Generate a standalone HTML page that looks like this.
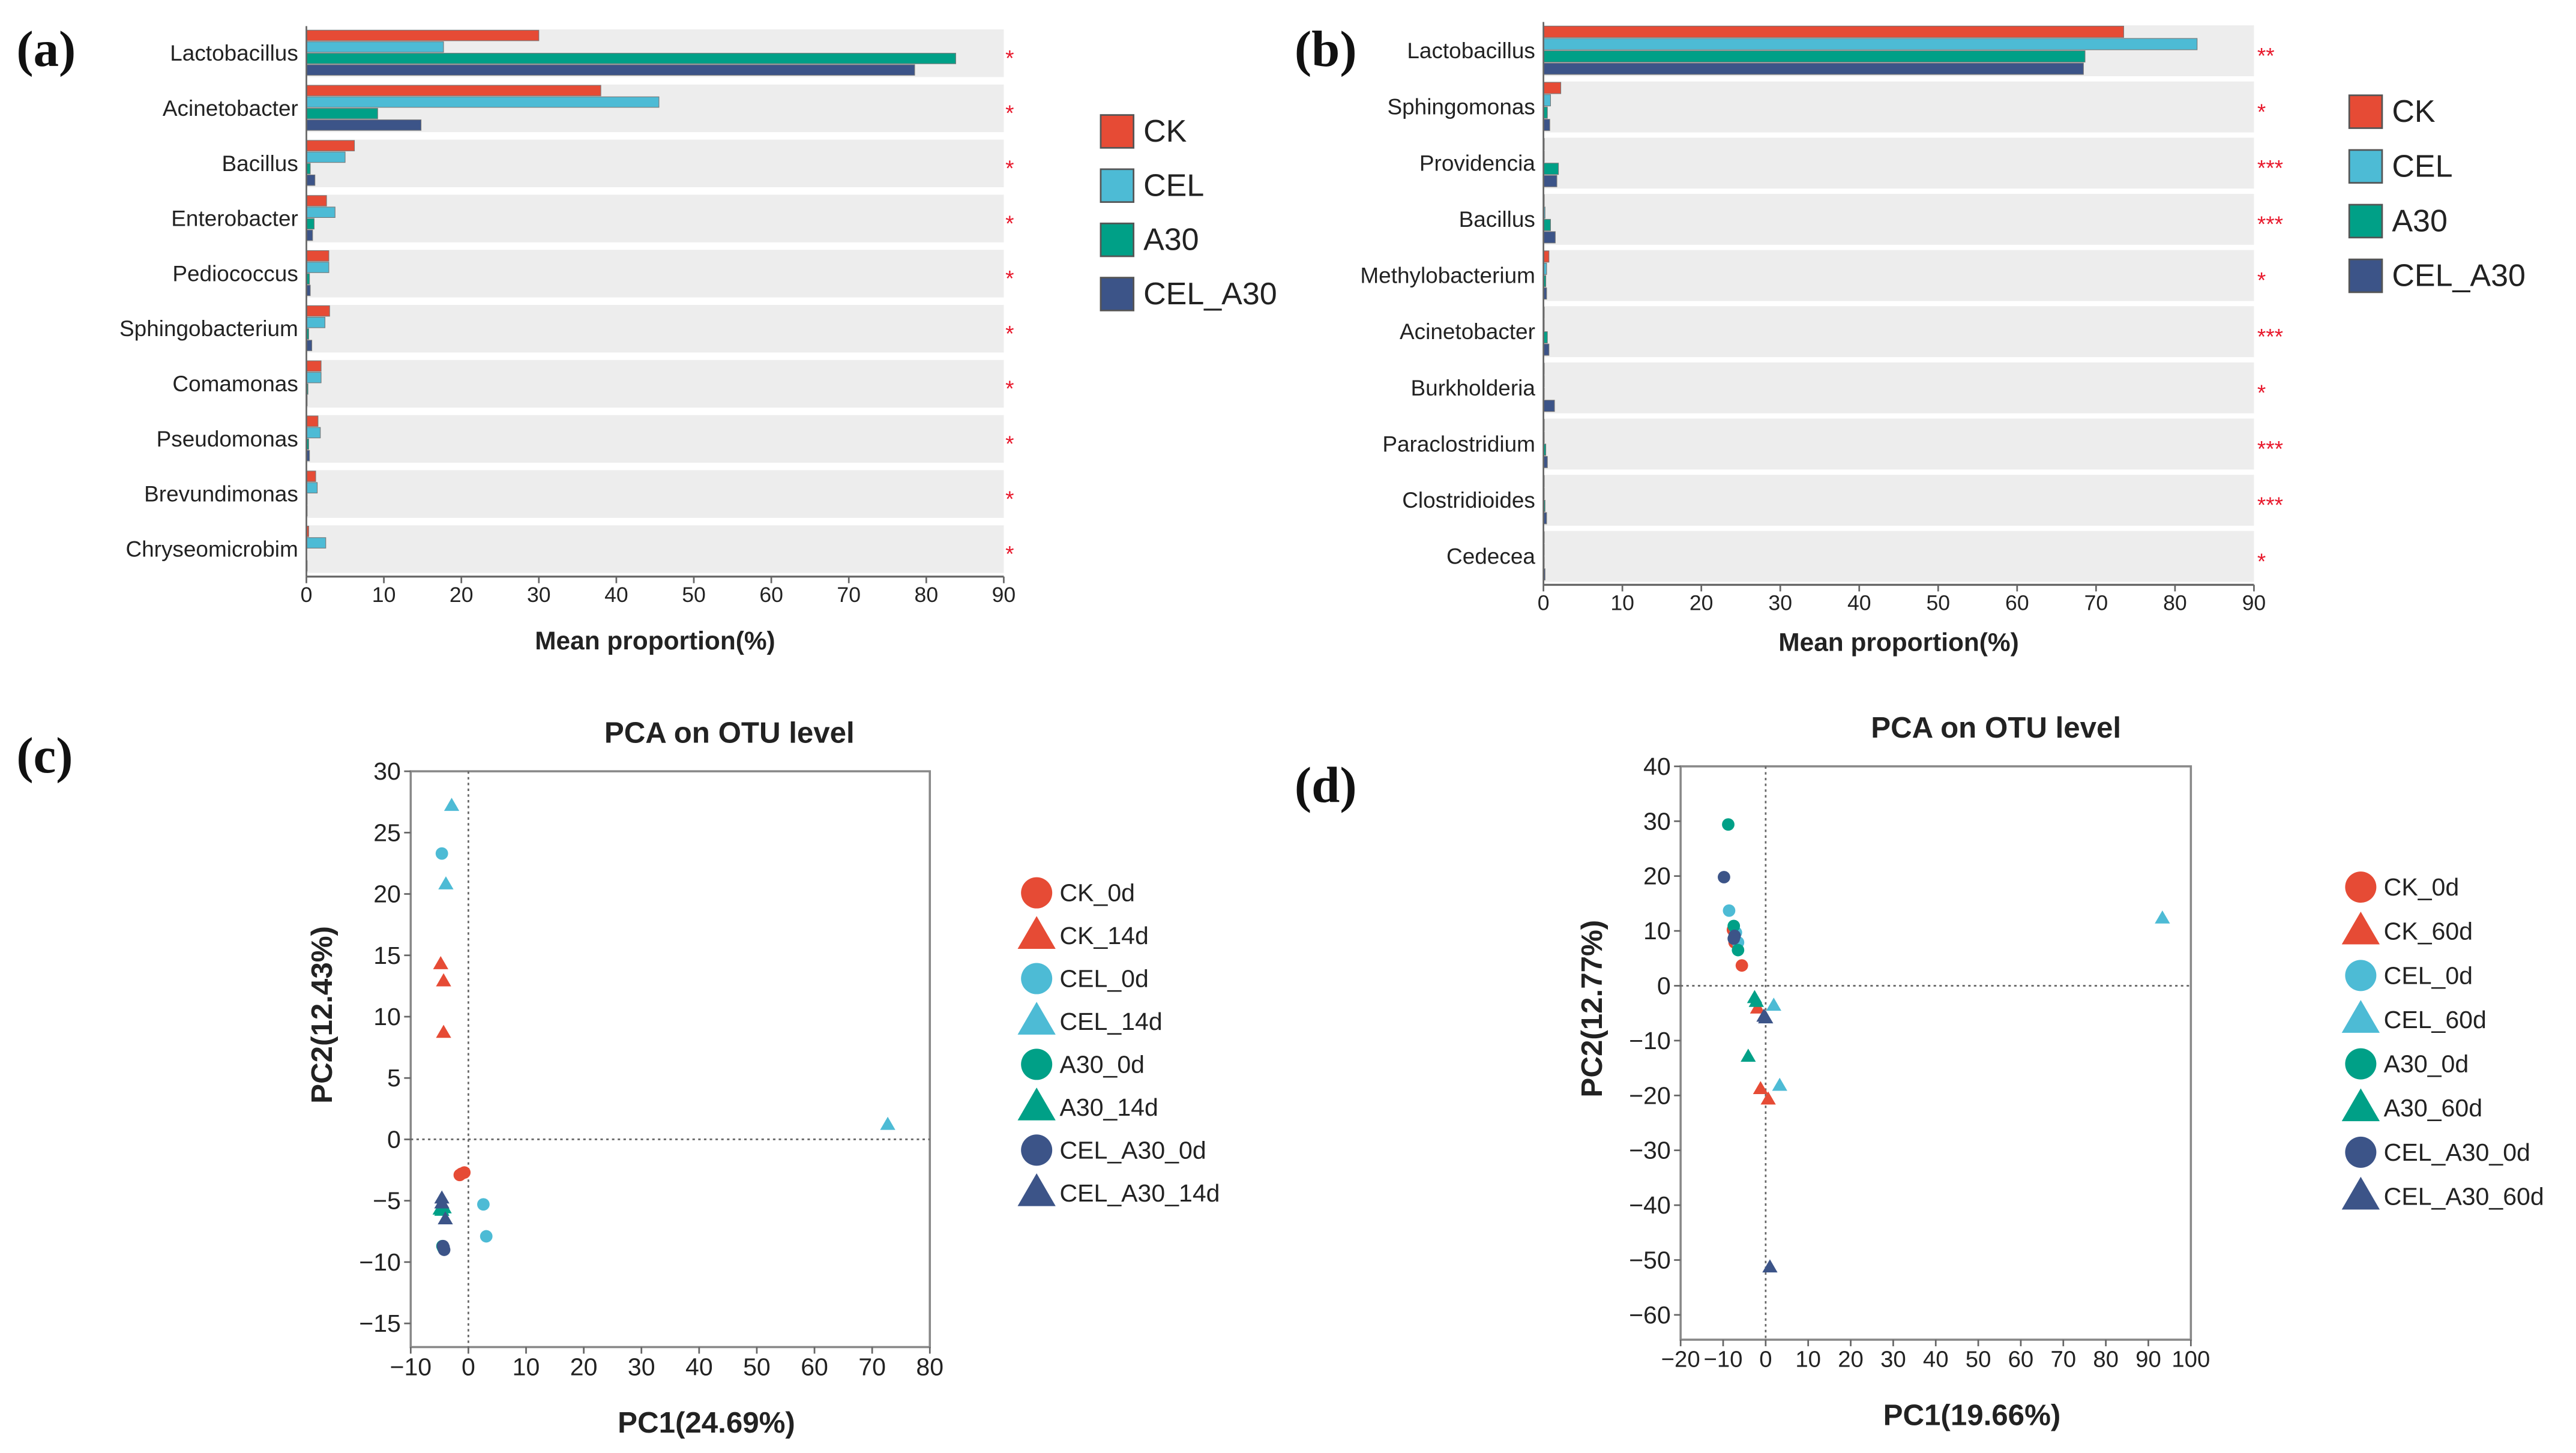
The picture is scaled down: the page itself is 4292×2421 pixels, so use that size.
<!DOCTYPE html>
<html><head><meta charset="utf-8"><style>
html,body{margin:0;padding:0;background:#fff}
svg{display:block}
text{font-family:"Liberation Sans",Arial,sans-serif;fill:#222}
.pl{font-family:"Liberation Serif",serif;font-weight:bold;font-size:31px;fill:#111}
</style></head><body>
<svg id="fig" xmlns="http://www.w3.org/2000/svg" width="4292" height="2421" viewBox="0 0 4292 2421">
<g id="root" transform="scale(2.7372)"></g>
</svg>
<script>
// ---------- data ----------
const groups = ["CK","CEL","A30","CEL_A30"];
const groupColors = ["#E64B35","#4DBBD5","#00A087","#3C5488"];
const catsA = ["Lactobacillus","Acinetobacter","Bacillus","Enterobacter","Pediococcus","Sphingobacterium","Comamonas","Pseudomonas","Brevundimonas","Chryseomicrobim"];
const ckA = [30,38,6.2,2.6,2.9,3,1.9,1.5,1.2,0.3];
const celA = [17.7,45.5,5,3.7,2.9,2.4,1.9,1.8,1.4,2.5];
const a30A = [83.8,9.2,0.5,1,0.4,0.3,0.2,0.3,0.1,0];
const celA30A = [78.5,14.8,1.1,0.8,0.5,0.7,0.1,0.4,0.1,0.1];
const starsA = ["*","*","*","*","*","*","*","*","*","*"];
const catsB = ["Lactobacillus","Sphingomonas","Providencia","Bacillus","Methylobacterium","Acinetobacter","Burkholderia","Paraclostridium","Clostridioides","Cedecea"];
const ckB = [73.5,2.2,0.1,0.1,0.7,0.1,0.1,0.1,0.1,0.1];
const celB = [82.8,0.9,0.1,0.2,0.4,0.1,0.1,0.1,0.1,0.1];
const a30B = [68.6,0.5,1.9,0.9,0.3,0.5,0.1,0.3,0.2,0.1];
const celA30B = [68.4,0.8,1.7,1.5,0.4,0.7,1.4,0.5,0.4,0.2];
const starsB = ["**","*","***","***","*","***","*","***","***","*"];
const barTicks = [0,10,20,30,40,50,60,70,80,90];

// PCA (c)
const legC = ["CK_0d","CK_14d","CEL_0d","CEL_14d","A30_0d","A30_14d","CEL_A30_0d","CEL_A30_14d"];
const pcC_x = [
 [-1.5,-0.7,-1.2],[-4.8,-4.3,-4.3],[-4.6,2.6,3.1],[-2.9,-3.9,72.7],
 [-4.4,-4.5,-4.3],[-4.9,-4.2,-4.6],[-4.2,-4.3,-4.4],[-4.6,-4,-4.6]];
const pcC_y = [
 [-2.9,-2.7,-2.8],[14.3,12.9,8.7],[23.3,-5.3,-7.9],[27.2,20.8,1.2],
 [-8.8,-8.7,-8.9],[-5.7,-5.6,-5.8],[-9.0,-8.8,-8.7],[-4.8,-6.5,-5.2]];
const ticksCx = [-10,0,10,20,30,40,50,60,70,80];
const ticksCy = [-15,-10,-5,0,5,10,15,20,25,30];
// PCA (d)
const legD = ["CK_0d","CK_60d","CEL_0d","CEL_60d","A30_0d","A30_60d","CEL_A30_0d","CEL_A30_60d"];
const pcD_x = [
 [-5.6,-7.3,-7.7],[-1.9,-1.2,0.6],[-8.6,-6.5,-7],[1.9,3.3,93.3],
 [-8.8,-7.5,-6.5],[-2.6,-4.1,-2.2],[-9.8,-7.3,-7.5],[-0.4,0,1]];
const pcD_y = [
 [3.7,7.9,10.2],[-4.1,-18.8,-20.7],[13.7,7.9,9.7],[-3.6,-18.2,12.3],
 [29.4,10.9,6.5],[-2.2,-12.9,-2.9],[19.8,9.1,8.6],[-5.6,-5.9,-51.3]];
const ticksDx = [-20,-10,0,10,20,30,40,50,60,70,80,90,100];
const ticksDy = [-60,-50,-40,-30,-20,-10,0,10,20,30,40];
const markColors = ["#E64B35","#E64B35","#4DBBD5","#4DBBD5","#00A087","#00A087","#3C5488","#3C5488"];

// ---------- helpers ----------
const NS="http://www.w3.org/2000/svg";
const root=document.getElementById('root');
function mk(tag,attrs,parent,txt){const e=document.createElementNS(NS,tag);for(const k in attrs)e.setAttribute(k,attrs[k]);if(txt!==undefined)e.textContent=txt;(parent||root).appendChild(e);return e;}
function label(x,y,t,size,anchor,extra){const e=mk('text',Object.assign({x:x,y:y,'font-size':size,'text-anchor':anchor||'start','dominant-baseline':'central'},extra||{}),root,t);return e;}

// panel labels
[["(a)",10,30],["(b)",788,30],["(c)",10,460],["(d)",788,478]].forEach(p=>{
 const e=label(p[1],p[2],p[0],31,'start',{'class':'pl'});
 
 
});

function barPanel(id,cats,series,stars,x0,x90,top,pitch,bandH,axisY,starX,legX,legY0,legPitch,titleOff){
 const sx=v=>x0+(x90-x0)*v/90;
 const g=mk('g',{});
 
 
 cats.forEach((c,i)=>{
  const y=top+i*pitch;
  const bg=mk('rect',{x:x0,y:y,width:x90-x0,height:bandH,fill:'#EDEDED'},g);
  
  
  const bh=(bandH-1)/4;
  series.forEach((s,j)=>{
   const r=mk('rect',{x:x0,y:y+0.5+j*bh,width:Math.max(0,sx(s[i])-x0),height:bh-0.6,fill:groupColors[j],stroke:'#777','stroke-width':0.4},g);
   
   
  });
  const t=mk('text',{x:x0-5,y:y+bandH/2,'font-size':13.5,'text-anchor':'end','dominant-baseline':'central'},g,c);
  
  
  const st=mk('text',{x:starX,y:y+bandH/2+3,'font-size':13.5,'text-anchor':'start','dominant-baseline':'central',fill:'#E8192C',style:'fill:#E8192C'},g,stars[i]);
  
  
 });
 mk('line',{x1:x0,y1:top-2,x2:x0,y2:axisY,stroke:'#666','stroke-width':1},g);
 const ax=mk('line',{x1:x0,y1:axisY,x2:x90,y2:axisY,stroke:'#666','stroke-width':1.2},g);
 
 
 barTicks.forEach(v=>{
  mk('line',{x1:sx(v),y1:axisY,x2:sx(v),y2:axisY+4,stroke:'#666','stroke-width':1},g);
  const t=mk('text',{x:sx(v),y:axisY+11,'font-size':13,'text-anchor':'middle','dominant-baseline':'central'},g,v);
  
  
 });
 const xt=mk('text',{x:(x0+x90)/2,y:axisY+titleOff,'font-size':15.5,'font-weight':'bold','text-anchor':'middle','dominant-baseline':'central'},g,'Mean proportion(%)');
 
 
 groups.forEach((gname,j)=>{
  const y=legY0+j*legPitch;
  const r=mk('rect',{x:legX,y:y-10,width:20,height:20,fill:groupColors[j],stroke:'#555','stroke-width':1},g);
  
  
  const t=mk('text',{x:legX+26,y:y,'font-size':19,'dominant-baseline':'central'},g,gname);
  
  
 });
}
barPanel('a',catsA,[ckA,celA,a30A,celA30A],starsA,186.5,611,17.9,33.54,29,351,612,670,80,33,39);
barPanel('b',catsB,[ckB,celB,a30B,celA30B],starsB,939.5,1372,15.4,34.2,31,356,1374,1430,68,33.3,35);

function marker(g,shape,x,y,col,s){
 if(shape==='c'){return mk('circle',{cx:x,cy:y,r:s,fill:col},g);}
 const h=s*1.9;
 return mk('polygon',{points:`${x},${y-h*0.6} ${x-h*0.58},${y+h*0.4} ${x+h*0.58},${y+h*0.4}`,fill:col},g);
}

function pcaPanel(id,xs,ys,legs,tx,ty,xmin,xmax,ymin,ymax,L,R,T,B,frameBottom,xlab,ylab,titleX,titleY,legX,legY0,legPitch,tickSize){
 const sx=v=>L+(R-L)*(v-xmin)/(xmax-xmin);
 const sy=v=>T+(B-T)*(ymax-v)/(ymax-ymin);
 const g=mk('g',{});
 
 
 const tt=mk('text',{x:titleX,y:titleY,'font-size':18,'font-weight':'bold','text-anchor':'middle','dominant-baseline':'central'},g,'PCA on OTU level');
 
 
 const fr=mk('rect',{x:L,y:T,width:R-L,height:frameBottom-T,fill:'none',stroke:'#888','stroke-width':1.3},g);
 
 
 mk('line',{x1:L,y1:sy(0),x2:R,y2:sy(0),stroke:'#666','stroke-width':1,'stroke-dasharray':'1.5,2'},g);
 mk('line',{x1:sx(0),y1:T,x2:sx(0),y2:frameBottom,stroke:'#666','stroke-width':1,'stroke-dasharray':'1.5,2'},g);
 tx.forEach(v=>{
  mk('line',{x1:sx(v),y1:frameBottom,x2:sx(v),y2:frameBottom+4,stroke:'#666'},g);
  const t=mk('text',{x:sx(v),y:frameBottom+12,'font-size':tickSize,'text-anchor':'middle','dominant-baseline':'central'},g,(v<0?'\u2212'+(-v):v));
  
  
 });
 ty.forEach(v=>{
  mk('line',{x1:L-4,y1:sy(v),x2:L,y2:sy(v),stroke:'#666'},g);
  const t=mk('text',{x:L-6,y:sy(v),'font-size':15,'text-anchor':'end','dominant-baseline':'central'},g,(v<0?'\u2212'+(-v):v));
  
  
 });
 const xl=mk('text',{x:(L+R)/2+22,y:frameBottom+46,'font-size':18,'font-weight':'bold','text-anchor':'middle','dominant-baseline':'central'},g,xlab);
 
 
 const yx=L-54, yy=(T+frameBottom)/2-27;
 const yl=mk('text',{x:yx,y:yy,'font-size':18,'font-weight':'bold','text-anchor':'middle','dominant-baseline':'central',transform:`rotate(-90 ${yx} ${yy})`},g,ylab);
 
 
 xs.forEach((arr,k)=>{
  const shape=k%2===0?'c':'t';
  arr.forEach((v,i)=>{
   const m=marker(g,shape,sx(v),sy(ys[k][i]),markColors[k],shape==='c'?3.8:4.2);
   
   
  });
 });
 legs.forEach((n,k)=>{
  const y=legY0+k*legPitch;
  const shape=k%2===0?'c':'t';
  const m=marker(g,shape,legX,y,markColors[k],shape==='c'?9.5:10.5);
  
  
  const t=mk('text',{x:legX+14,y:y,'font-size':15,'dominant-baseline':'central'},g,n);
  
  
 });
}
pcaPanel('c',pcC_x,pcC_y,legC,ticksCx,ticksCy,-10,80,-15,30,250,566,469.5,805.6,820,'PC1(24.69%)','PC2(12.43%)',444,446,631,543.5,26.1,15);
pcaPanel('d',pcD_x,pcD_y,legD,ticksDx,ticksDy,-20,100,-60,40,1023,1333.6,466.5,800.4,815.5,'PC1(19.66%)','PC2(12.77%)',1215,443,1437,540,26.9,14);
</script>
</body></html>
